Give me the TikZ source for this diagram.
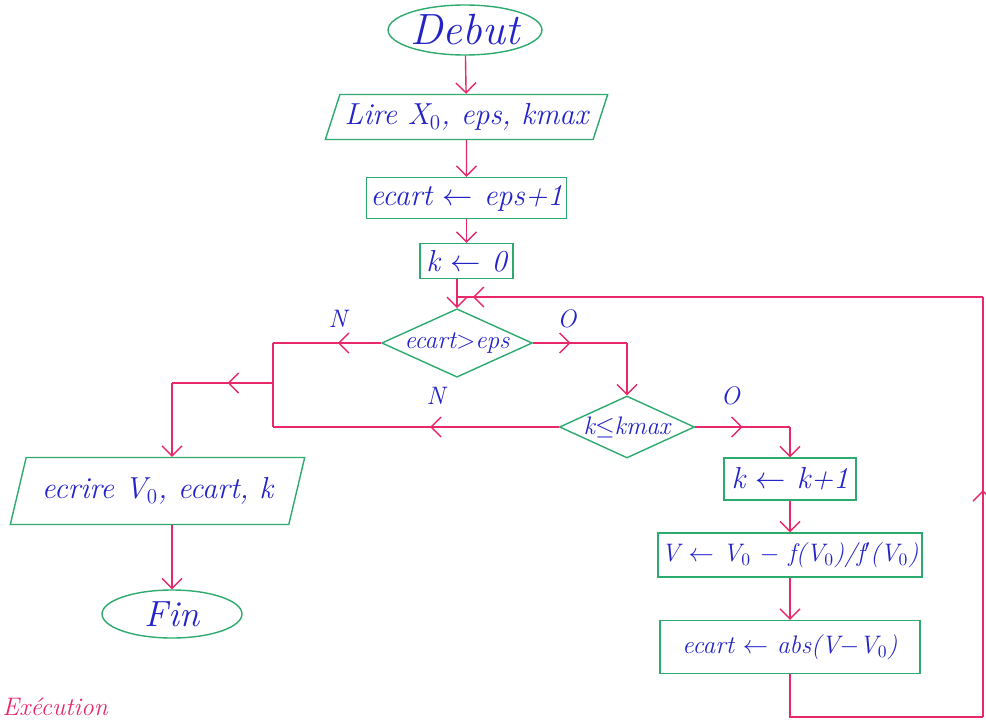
\documentclass[tikz,border=0pt]{standalone}
\usetikzlibrary{shapes.geometric,arrows.meta,decorations.markings,calc}
\definecolor{boxgreen}{RGB}{45,170,110}
\definecolor{linkred}{RGB}{232,40,105}
\definecolor{inkblue}{RGB}{35,35,200}

\begin{document}
\begin{tikzpicture}[
  block/.style={rectangle, draw=boxgreen, thick, text=inkblue, font=\LARGE\itshape, inner sep=2pt},
  io/.style={trapezium, trapezium left angle=65, trapezium right angle=115, trapezium stretches=true, draw=boxgreen, thick, text=inkblue, font=\LARGE\itshape, inner sep=1pt},
  term/.style={ellipse, draw=boxgreen, thick, text=inkblue, font=\huge\itshape, inner sep=0pt},
  test/.style={diamond, aspect=2.2, draw=boxgreen, thick, text=inkblue, font=\Large\itshape, inner sep=0pt},
  flow/.style={draw=linkred, thick},
  arrow/.style={flow, -{Straight Barb[length=2mm]}},
  midarrow/.style={flow, postaction={decorate}, decoration={markings, mark=at position #1 with {\arrow{Straight Barb[length=2mm]}}}},
  branch/.style={text=inkblue, font=\Large\itshape},
]
\useasboundingbox (0,0) rectangle (19.72,14.42);

% === Main column ===
\node[term, font=\Huge\itshape, minimum width=2.9cm, minimum height=1cm] (deb) at (9.3,13.82) {Debut};
\node[io, minimum width=5.66cm, minimum height=0.9cm] (lire) at (9.33,12.08) {Lire X$_0$, eps, kmax};
\node[block, minimum width=3.86cm, minimum height=0.82cm] (init) at (9.33,10.46) {ecart $\leftarrow$ eps+1};
\node[block, minimum width=1.86cm, minimum height=0.7cm] (k0) at (9.33,9.20) {k $\leftarrow$ 0};
\node[test, minimum width=2.9cm, minimum height=1.3cm] (d1) at (9.14,7.56) {ecart$>$eps};
\node[test, minimum width=2.7cm, minimum height=1.24cm] (d2) at (12.54,5.88) {k$\leq$kmax};

% === Loop body ===
\node[block, minimum width=2.64cm, minimum height=0.84cm] (kk) at (15.8,4.84) {k $\leftarrow$ k+1};
\node[block, font=\Large\itshape, minimum width=5.2cm, minimum height=0.88cm] (vv) at (15.8,3.32) {V $\leftarrow$ V$_0$ $-$ f(V$_0$)/f$'$(V$_0$)};
\node[block, font=\Large\itshape, minimum width=5.2cm, minimum height=1.06cm] (ea) at (15.8,1.48) {ecart $\leftarrow$ abs(V$-$V$_0$)};

% === Exit ===
\node[io, minimum width=5.9cm, minimum height=1.34cm] (ecr) at (3.15,4.6) {ecrire V$_0$, ecart, k};
\node[term, minimum width=2.8cm, minimum height=0.96cm] (fin) at (3.44,2.14) {Fin};

\node[text=linkred, font=\Large\itshape, anchor=base west, inner sep=0pt] (foot) at (0.04,0.12) {Exécution};

\coordinate (jtop) at (5.46,7.56);
\coordinate (jbot) at (5.46,5.88);
\coordinate (jmid) at (5.46,6.76);
\coordinate (jout) at (3.44,6.76);
\coordinate (lb) at (15.8,0.08);
\coordinate (lbr) at (19.66,0.08);
\coordinate (ltr) at (19.66,8.48);
\coordinate (ltl) at (9.14,8.48);

\draw[arrow] (deb) -- (lire);
\draw[arrow] (lire) -- (init);
\draw[arrow] (init) -- (k0);
\draw[arrow] (k0.south -| d1.north) -- (d1.north);

% === Branches ===
\draw[midarrow=0.4] (d1.west) -- node[branch, above=5pt, pos=0.4] {N} (jtop);
\draw[flow] (jtop) -- (jbot);
\draw[midarrow=0.4] (d1.east) -- node[branch, above=5pt, pos=0.36] {O} (d1.east -| d2.north);
\draw[arrow] (d1.east -| d2.north) -- (d2.north);
\draw[midarrow=0.45] (d2.west) -- node[branch, above=9pt, pos=0.43] {N} (jbot);
\draw[midarrow=0.5] (d2.east) -- node[branch, above=9pt, pos=0.37] {O} (d2.east -| kk.north);
\draw[arrow] (d2.east -| kk.north) -- (kk.north);
\draw[midarrow=0.45] (jmid) -- (jout);
\draw[arrow] (jout) -- (jout |- ecr.north);
\draw[arrow] (ecr.south -| fin.north) -- (fin.north);

% === Loop ===
\draw[arrow] (kk) -- (vv);
\draw[arrow] (vv) -- (ea);
\draw[flow] (ea.south) -- (lb) -- (lbr);
\draw[midarrow=0.54] (lbr) -- (ltr);
\draw[midarrow=0.97] (ltr) -- (ltl);

\end{tikzpicture}
\end{document}
